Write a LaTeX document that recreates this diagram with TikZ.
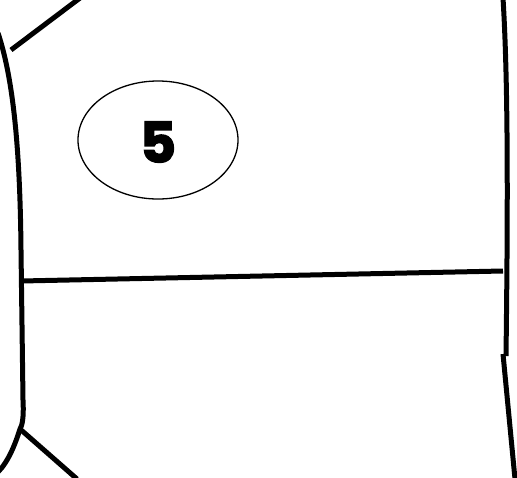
\documentclass[tikz,border=0pt]{standalone}
\usepackage{fontspec}
\usetikzlibrary{shapes.geometric}
\newfontfamily\numfont[BoldFeatures={FakeBold=2.5}]{Poppins}
\begin{document}
\begin{tikzpicture}[x=1pt,y=-1pt,
  wall/.style={line width=5pt,black},
  roomlabel/.style={ellipse,draw,line width=1.3pt,minimum width=160pt,minimum height=118pt,inner sep=0pt}]
\useasboundingbox (0,0) rectangle (517,477);
\coordinate (tl1) at (11,50);
\coordinate (tl2) at (80,-2);
\coordinate (lt) at (-2,33);
\coordinate (lm) at (21,250);
\coordinate (lb) at (23,400);
\coordinate (lj) at (20,429);
\coordinate (le) at (-2,472);
\coordinate (bd) at (77,479);
\coordinate (hl) at (21,281);
\coordinate (hr) at (503,271);
\coordinate (rt) at (503,-2);
\coordinate (rm) at (506,356);
\coordinate (rs) at (503,354);
\coordinate (rb) at (515,479);
\draw[wall] (tl1) -- (tl2);
\draw[wall] (lt) .. controls (12,75) and (20,140) .. (lm) -- (lb) .. controls (24,418) and (22,426) .. (lj) .. controls (15,445) and (8,462) .. (le);
\draw[wall] (lj) -- (bd);
\draw[wall] (hl) -- (hr);
\draw[wall] (rt) .. controls (508,80) and (508,200) .. (rm);
\draw[wall] (rs) -- (rb);
\node[roomlabel] (e5) at (158,140) {};
\node[font=\numfont\bfseries\fontsize{56}{56}\selectfont] (t5) at (158,142) {5};
\end{tikzpicture}
\end{document}
